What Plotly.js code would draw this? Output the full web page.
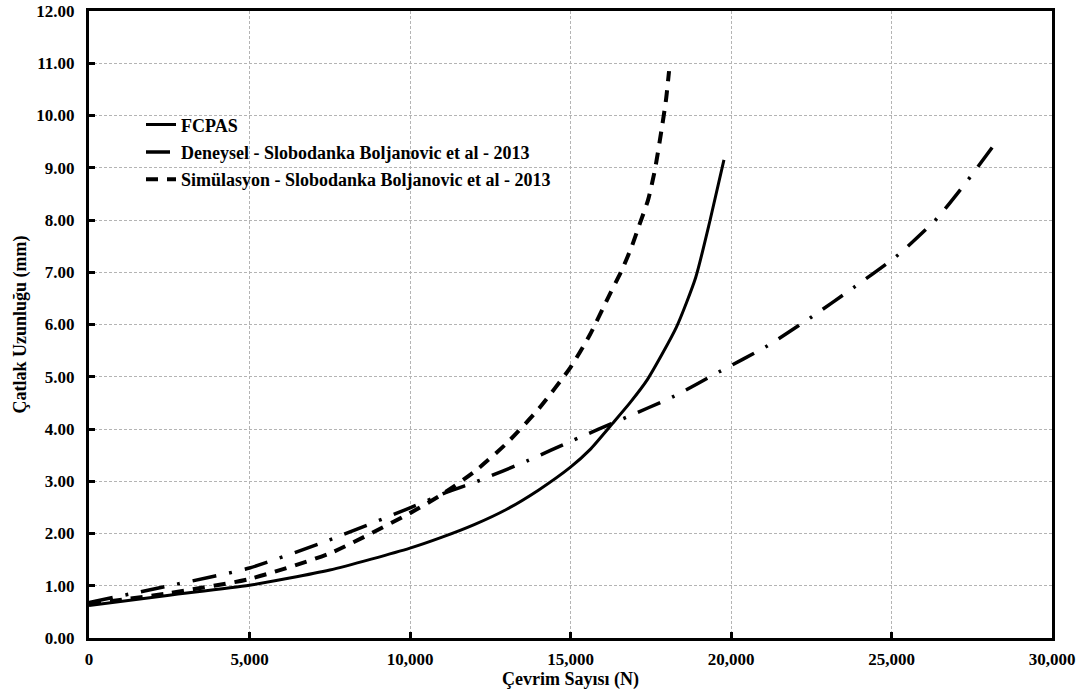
<!DOCTYPE html>
<html>
<head>
<meta charset="utf-8">
<script src="https://cdn.plot.ly/plotly-3.0.1.min.js"></script>
<style>html,body{margin:0;padding:0;background:#fff;}#chart{width:1084px;height:698px;}</style>
</head>
<body>
<div id="chart"></div>
<script>
// FCPAS
const fcpasN = [0, 2500, 5000, 7500, 10000, 11000, 12000, 13000, 14000, 15000, 15600, 16300, 16850, 17400, 18300, 18900, 19350, 19780];
const fcpasA = [0.62, 0.82, 1.01, 1.30, 1.72, 1.93, 2.17, 2.46, 2.83, 3.27, 3.60, 4.10, 4.50, 4.95, 5.95, 6.90, 8.00, 9.15];
// Deneysel - Slobodanka Boljanovic et al - 2013
const denN = [0, 2500, 5000, 7500, 10000, 11150, 12100, 13650, 15100, 16650, 18200, 19650, 21100, 22500, 23850, 25200, 26400, 27450, 28150];
const denA = [0.68, 1.00, 1.34, 1.88, 2.49, 2.79, 3.00, 3.39, 3.79, 4.20, 4.62, 5.10, 5.58, 6.14, 6.72, 7.33, 8.02, 8.82, 9.40];
// Simülasyon - Slobodanka Boljanovic et al - 2013
const simN = [0, 2500, 5000, 7500, 10000, 11000, 12000, 13000, 14000, 15000, 15600, 16200, 16600, 16900, 17165, 17415, 17630, 17850, 17975, 18070];
const simA = [0.65, 0.86, 1.13, 1.62, 2.39, 2.75, 3.18, 3.72, 4.38, 5.18, 5.80, 6.55, 7.04, 7.48, 7.94, 8.38, 8.96, 9.78, 10.30, 10.85];

const names = ["FCPAS", "Deneysel - Slobodanka Boljanovic et al - 2013", "Simülasyon - Slobodanka Boljanovic et al - 2013"];
const xTitle = "Çevrim Sayısı (N)";
const yTitle = "Çatlak Uzunluğu (mm)";

const F = "Liberation Serif";

const traces = [
  {x: fcpasN, y: fcpasA, name: names[0], mode: "lines", legendgroup: "a",
   line: {color: "#000", width: 3, shape: "spline", smoothing: 0.6}},
  {x: denN, y: denA, name: names[1], mode: "lines", legendgroup: "b",
   line: {color: "#000", width: 3.5, dash: "24px,13px,3px,13px", shape: "spline", smoothing: 0.6}},
  {x: simN, y: simA, name: names[2], mode: "lines", legendgroup: "c",
   line: {color: "#000", width: 4, dash: "12px,9px", shape: "spline", smoothing: 0.6}}
];

const gridStyle = {gridcolor: "#b4b4b4", gridwidth: 1, griddash: "3px,2px"};

const layout = {
  width: 1084, height: 698,
  margin: {l: 89, r: 32, t: 11, b: 60},
  paper_bgcolor: "#fff", plot_bgcolor: "#fff",
  font: {family: F, size: 17, color: "#000", weight: "bold"},
  showlegend: true,
  legend: {x: 0.054, y: 0.848, xanchor: "left", yanchor: "top",
           bgcolor: "rgba(0,0,0,0)", font: {family: F, size: 18, weight: "bold"},
           traceorder: "grouped", tracegroupgap: 1},
  xaxis: Object.assign({
    range: [0, 30000], dtick: 5000, tick0: 0, tickformat: ",d",
    showline: true, linecolor: "#000", linewidth: 3, mirror: true,
    ticks: "inside", ticklen: 6, tickwidth: 3, tickcolor: "#000",
    zeroline: false, ticklabelstandoff: 4,
    tickfont: {family: F, size: 17, weight: "bold"},
    title: {text: xTitle, font: {family: F, size: 18, weight: "bold"}, standoff: 4}
  }, gridStyle),
  yaxis: Object.assign({
    range: [0, 12], dtick: 1, tick0: 0, tickformat: ".2f",
    showline: true, linecolor: "#000", linewidth: 3, mirror: true,
    ticks: "inside", ticklen: 6, tickwidth: 3, tickcolor: "#000",
    zeroline: false, ticklabelstandoff: 8,
    tickfont: {family: F, size: 17, weight: "bold"},
    title: {text: yTitle, font: {family: F, size: 18, weight: "bold"}, standoff: 6}
  }, gridStyle)
};

Plotly.newPlot("chart", traces, layout, {displayModeBar: false, staticPlot: true});
</script>
</body>
</html>
